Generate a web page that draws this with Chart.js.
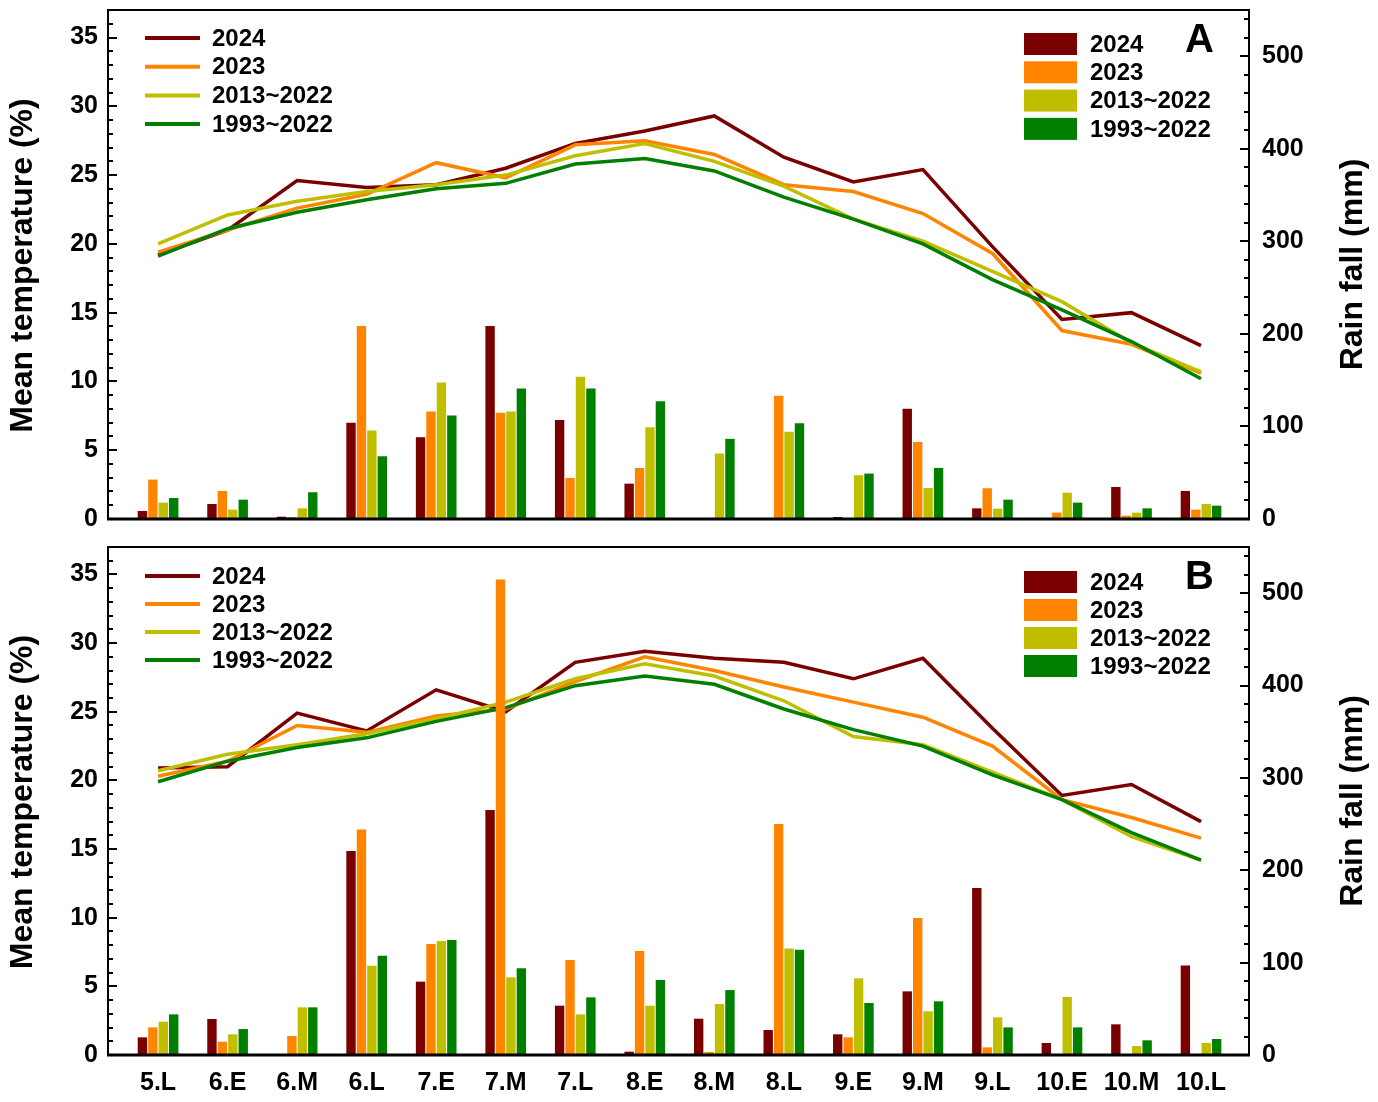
<!DOCTYPE html>
<html>
<head>
<meta charset="utf-8">
<title>Temperature and rainfall</title>
<script src="https://cdn.jsdelivr.net/npm/chart.js@4.4.1/dist/chart.umd.min.js"></script>
<style>
  html, body { margin: 0; padding: 0; background: #fff; }
  #wrap { position: relative; width: 1378px; height: 1102px; }
  .panel { position: absolute; left: 0; }
</style>
</head>
<body>
<div id="wrap">
  <div class="panel" style="top:0"><canvas id="chartA" width="1378" height="540"></canvas></div>
  <div class="panel" style="top:540px"><canvas id="chartB" width="1378" height="562"></canvas></div>
</div>
<script>
// ten-day periods (E = early, M = middle, L = late)
const periods = ['5.L', '6.E', '6.M', '6.L', '7.E', '7.M', '7.L', '8.E', '8.M', '8.L', '9.E', '9.M', '9.L', '10.E', '10.M', '10.L'];
const seriesNames = ['2024', '2023', '2013~2022', '1993~2022'];

// Panel A - mean temperature
const tempA2024 = [19.2, 21.0, 24.6, 24.1, 24.3, 25.5, 27.3, 28.2, 29.3, 26.3, 24.5, 25.4, 19.8, 14.5, 15.0, 12.6];
const tempA2023 = [19.4, 21.0, 22.6, 23.6, 25.9, 24.8, 27.2, 27.5, 26.5, 24.3, 23.8, 22.2, 19.3, 13.7, 12.7, 10.6];
const tempA2013 = [20.0, 22.1, 23.1, 23.8, 24.3, 25.0, 26.4, 27.3, 26.0, 24.2, 21.8, 20.2, 18.0, 15.8, 12.8, 10.7];
const tempA1993 = [19.1, 21.1, 22.3, 23.2, 24.0, 24.4, 25.8, 26.2, 25.3, 23.4, 21.8, 20.0, 17.4, 15.2, 12.9, 10.2];
// Panel A - rain fall
const rainA2024 = [8.7, 16.2, 2.5, 103.9, 88.4, 208.5, 107.1, 38.2, 0, 0, 2.2, 119.0, 11.5, 0, 34.6, 30.3];
const rainA2023 = [42.6, 30.3, 2.2, 208.5, 116.2, 114.7, 44.4, 55.2, 0, 133.1, 0, 83.3, 33.2, 6.9, 3.6, 10.1];
const rainA2013 = [17.7, 10.1, 11.5, 95.6, 147.5, 116.2, 153.7, 99.2, 70.7, 94.2, 47.3, 33.5, 11.2, 28.5, 6.9, 16.2];
const rainA1993 = [22.7, 20.9, 28.9, 67.8, 111.8, 141.0, 141.0, 127.3, 86.6, 103.5, 49.1, 55.2, 20.9, 17.7, 11.5, 14.4];

// Panel B - mean temperature
const tempB2024 = [20.9, 21.0, 24.9, 23.6, 26.6, 25.0, 28.6, 29.4, 28.9, 28.6, 27.4, 28.9, 23.8, 18.9, 19.7, 17.0];
const tempB2023 = [20.3, 21.4, 24.0, 23.5, 24.7, 25.2, 27.2, 29.0, 28.0, 26.8, 25.7, 24.6, 22.5, 18.6, 17.3, 15.8];
const tempB2013 = [20.7, 21.9, 22.6, 23.4, 24.5, 25.7, 27.4, 28.5, 27.6, 25.8, 23.2, 22.6, 20.6, 18.6, 15.9, 14.2];
const tempB1993 = [19.9, 21.4, 22.4, 23.1, 24.3, 25.3, 26.9, 27.6, 27.0, 25.2, 23.7, 22.5, 20.4, 18.6, 16.2, 14.2];
// Panel B - rain fall
const rainB2024 = [19.1, 39.0, 0, 220.8, 79.4, 265.2, 53.4, 3.6, 39.3, 27.1, 22.4, 68.9, 180.7, 13.0, 33.2, 97.0];
const rainB2023 = [29.9, 14.4, 20.6, 244.2, 120.1, 514.8, 102.8, 112.6, 3.2, 250.0, 19.1, 148.3, 8.3, 0, 0, 0];
const rainB2013 = [36.1, 22.4, 51.6, 96.7, 123.4, 84.1, 44.0, 53.4, 55.2, 115.4, 83.0, 47.3, 40.8, 62.8, 9.7, 13.0];
const rainB1993 = [44.0, 28.1, 51.6, 107.5, 124.5, 93.8, 62.4, 81.2, 70.3, 114.0, 56.3, 58.1, 29.9, 29.9, 15.9, 17.3];

const tempTicks = [0, 5, 10, 15, 20, 25, 30, 35];
const rainTicks = [0, 100, 200, 300, 400, 500];

const colors = ['#7a0000', '#ff8400', '#bfbf00', '#007f00'];
const FONT = '"Liberation Sans", Arial, sans-serif';

// frame, inward ticks, axis titles, both legends and the panel letter
const overlayPlugin = {
    id: 'overlay',
    afterDraw(chart, args, opts) {
        const ctx = chart.ctx;
        const a = chart.chartArea;
        const yL = chart.scales.yL;
        const yR = chart.scales.yR;
        ctx.save();
        ctx.strokeStyle = '#000';
        ctx.lineWidth = 2;
        ctx.strokeRect(a.left, a.top, a.right - a.left, a.bottom - a.top);
        ctx.lineWidth = 3;
        ctx.beginPath();
        ctx.moveTo(a.left - 1, a.bottom);
        ctx.lineTo(a.right + 1, a.bottom);
        ctx.stroke();

        // inward tick marks
        ctx.lineWidth = 2;
        ctx.beginPath();
        for (let v = 1; v <= 36; v++) {
            const y = Math.round(yL.getPixelForValue(v));
            const len = v % 5 === 0 ? 9 : 5;
            ctx.moveTo(a.left, y);
            ctx.lineTo(a.left + len, y);
        }
        for (let v = 20; v <= 540; v += 20) {
            const y = Math.round(yR.getPixelForValue(v));
            const len = v % 100 === 0 ? 9 : 5;
            ctx.moveTo(a.right, y);
            ctx.lineTo(a.right - len, y);
        }
        ctx.stroke();

        // axis titles
        const midY = (a.top + a.bottom) / 2;
        ctx.fillStyle = '#000';
        ctx.font = 'bold 32px ' + FONT;
        ctx.textAlign = 'center';
        ctx.textBaseline = 'middle';
        ctx.save();
        ctx.translate(23, midY + 1);
        ctx.rotate(-Math.PI / 2);
        ctx.fillText('Mean temperature (%)', 0, 0);
        ctx.restore();
        ctx.save();
        ctx.translate(1353, midY);
        ctx.rotate(-Math.PI / 2);
        ctx.fillText('Rain fall (mm)', 0, 0);
        ctx.restore();

        // line legend (temperature)
        ctx.font = 'bold 24px ' + FONT;
        ctx.textAlign = 'left';
        seriesNames.forEach((name, k) => {
            const y = opts.lineY + k * opts.lineStep;
            ctx.strokeStyle = colors[k];
            ctx.lineWidth = 4;
            ctx.beginPath();
            ctx.moveTo(145, y);
            ctx.lineTo(200, y);
            ctx.stroke();
            ctx.fillStyle = '#000';
            ctx.fillText(name, 212, y + 1);
        });
        // bar legend (rain fall)
        seriesNames.forEach((name, k) => {
            const y = opts.barY + k * opts.barStep;
            ctx.fillStyle = colors[k];
            ctx.fillRect(1024, y - 11, 53, 22);
            ctx.fillStyle = '#000';
            ctx.fillText(name, 1090, y + 1);
        });
        // panel letter
        ctx.font = 'bold 40px ' + FONT;
        ctx.fillText(opts.letter, 1185, opts.letterY);
        ctx.restore();
    }
};

function makeChart(canvasId, letter, temps, rains, geom) {
    const datasets = [];
    rains.forEach((arr, k) => {
        datasets.push({
            type: 'bar',
            label: seriesNames[k] + ' rain fall',
            data: arr.map((v, i) => ({ x: i, y: v })),
            backgroundColor: colors[k],
            borderWidth: 0,
            yAxisID: 'yR',
            order: 0,
            categoryPercentage: 0.6,
            barPercentage: 0.9
        });
    });
    temps.forEach((arr, k) => {
        datasets.push({
            type: 'line',
            label: seriesNames[k] + ' temperature',
            data: arr.map((v, i) => ({ x: i, y: v })),
            borderColor: colors[k],
            backgroundColor: colors[k],
            borderWidth: 3.5,
            pointRadius: 0,
            tension: 0,
            yAxisID: 'yL',
            order: 14 - k
        });
    });

    const tickFont = { family: FONT, size: 25, weight: 'bold' };
    const noPadY = s => { s.paddingTop = 0; s.paddingBottom = 0; };

    return new Chart(document.getElementById(canvasId), {
        type: 'bar',
        data: { datasets: datasets },
        plugins: [overlayPlugin],
        options: {
            responsive: false,
            animation: false,
            devicePixelRatio: 1,
            layout: { padding: { top: geom.padTop, left: 0, right: 0, bottom: 0 } },
            plugins: {
                legend: { display: false },
                tooltip: { enabled: false },
                overlay: {
                    letter: letter,
                    lineY: geom.lineY, lineStep: geom.lineStep,
                    barY: geom.barY, barStep: geom.barStep,
                    letterY: geom.letterY
                }
            },
            scales: {
                x: {
                    type: 'linear',
                    offset: false,
                    min: -0.72,
                    max: 15.69,
                    afterBuildTicks: s => { s.ticks = periods.map((p, i) => ({ value: i })); },
                    afterFit: s => { s.height = geom.xHeight; s.paddingLeft = 0; s.paddingRight = 0; },
                    ticks: {
                        display: geom.showX,
                        autoSkip: false,
                        maxRotation: 0,
                        padding: 13,
                        color: '#000',
                        font: tickFont,
                        callback: v => periods[v]
                    },
                    grid: { display: false, drawTicks: false },
                    border: { display: false }
                },
                yL: {
                    position: 'left',
                    min: 0,
                    max: 37,
                    afterBuildTicks: s => { s.ticks = tempTicks.map(v => ({ value: v })); },
                    afterFit: s => { s.width = 108; noPadY(s); },
                    ticks: { padding: 10, color: '#000', font: tickFont },
                    grid: { display: false, drawTicks: false },
                    border: { display: false }
                },
                yR: {
                    position: 'right',
                    min: 0,
                    max: 550,
                    afterBuildTicks: s => { s.ticks = rainTicks.map(v => ({ value: v })); },
                    afterFit: s => { s.width = 129; noPadY(s); },
                    ticks: { padding: 13, color: '#000', font: tickFont },
                    grid: { display: false, drawTicks: false },
                    border: { display: false }
                }
            }
        }
    });
}

makeChart('chartA', 'A',
    [tempA2024, tempA2023, tempA2013, tempA1993],
    [rainA2024, rainA2023, rainA2013, rainA1993],
    { padTop: 10, xHeight: 21, showX: false, lineY: 38, lineStep: 28.7, barY: 44, barStep: 28.3, letterY: 41 });

makeChart('chartB', 'B',
    [tempB2024, tempB2023, tempB2013, tempB1993],
    [rainB2024, rainB2023, rainB2013, rainB1993],
    { padTop: 7, xHeight: 47, showX: true, lineY: 36, lineStep: 28, barY: 42, barStep: 28, letterY: 38 });
</script>
</body>
</html>
